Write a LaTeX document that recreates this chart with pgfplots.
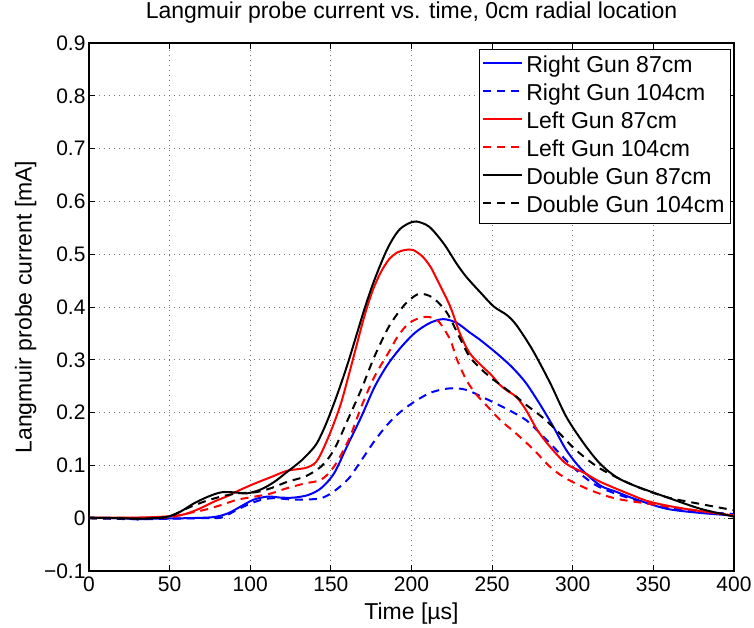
\documentclass[border=0pt]{standalone}
\usepackage{fontspec}
\setmainfont{Liberation Sans}
\usepackage{pgfplots}
\pgfplotsset{compat=1.18}
\begin{document}
\begin{tikzpicture}
\begin{axis}[
  at={(0pt,0pt)}, anchor=south west,
  scale only axis, width=645pt, height=528pt,
  xmin=0, xmax=400, ymin=-0.1, ymax=0.9,
  xtick={0,50,100,150,200,250,300,350,400},
  xticklabels={0,50,100,150,200,250,300,350,400},
  ytick={-0.1,0,0.1,0.2,0.3,0.4,0.5,0.6,0.7,0.8,0.9},
  yticklabels={−0.1,0,0.1,0.2,0.3,0.4,0.5,0.6,0.7,0.8,0.9},
  tick align=inside, major tick length=6.5pt,
  grid=major,
  grid style={black!55, line width=0.8pt, dash pattern=on 1pt off 4pt},
  axis line style={line width=1.2pt},
  tick style={line width=1pt, black},
  tick label style={font=\fontsize{21}{25}\selectfont},
  xticklabel style={yshift=-2pt},
  title={Langmuir probe current vs. time, 0cm radial location},
  title style={font=\fontsize{23}{27}\selectfont, at={(axis description cs:0.5,1)}, anchor=base, yshift=18pt},
  xlabel={Time [µs]},
  xlabel style={font=\fontsize{23}{27}\selectfont, at={(axis description cs:0.5,0)}, anchor=base, yshift=-48pt},
  ylabel={Langmuir probe current [mA]},
  ylabel style={font=\fontsize{23}{27}\selectfont, at={(axis description cs:-0.0888,0.5)}, anchor=base},
  legend style={at={(0.9953,0.9886)}, anchor=north east, draw=black, line width=1pt,
    font=\fontsize{23}{27}\selectfont, inner sep=3pt, row sep=0pt,
    nodes={text height=17pt, text depth=5pt, inner sep=3pt}},
  legend cell align=left,
  legend image code/.code={\draw[#1] (-2pt,0.35em) -- (37pt,0.35em);},
]
\addplot[blue, line width=2pt, smooth] table {
0 0.001
20 0.000
30 -0.002
40 -0.001
60 0.000
77 0.002
86 0.009
94 0.022
102 0.035
111 0.041
119 0.039
127 0.039
136 0.044
144 0.057
152 0.085
160 0.136
169 0.193
177 0.248
185 0.290
193 0.322
201 0.348
207 0.362
213 0.372
220 0.377
228 0.370
236 0.352
242 0.339
249 0.322
256 0.304
263 0.284
271 0.256
280 0.214
288 0.173
296 0.129
305 0.094
317 0.062
327 0.050
338 0.037
358 0.018
379 0.010
400 0.005
};
\addlegendentry{Right Gun 87cm}
\addplot[blue, line width=2pt, smooth, dash pattern=on 8pt off 6pt] table {
0 0.000
30 -0.002
50 -0.001
70 0.000
82 0.001
90 0.013
98 0.025
107 0.035
115 0.038
123 0.036
132 0.035
144 0.038
152 0.051
161 0.075
169 0.110
177 0.146
185 0.177
193 0.201
203 0.223
213 0.239
224 0.246
234 0.243
247 0.225
259 0.207
271 0.186
280 0.160
288 0.135
300 0.097
313 0.065
327 0.046
348 0.027
369 0.015
400 0.008
};
\addlegendentry{Right Gun 104cm}
\addplot[red, line width=2pt, smooth] table {
0 0.001
20 0.001
40 0.002
57 0.006
67 0.016
78 0.032
86 0.042
94 0.054
103 0.066
113 0.078
123 0.090
134 0.095
140 0.104
144 0.123
150 0.165
156 0.215
161 0.270
166 0.328
171 0.385
176 0.432
181 0.466
186 0.490
191 0.503
196 0.508
201 0.508
207 0.495
212 0.475
216 0.451
224 0.401
230 0.350
236 0.313
244 0.287
249 0.273
255 0.252
260 0.240
265 0.230
271 0.205
278 0.167
286 0.135
296 0.103
307 0.086
317 0.069
334 0.047
348 0.031
369 0.018
400 0.005
};
\addlegendentry{Left Gun 87cm}
\addplot[red, line width=2pt, smooth, dash pattern=on 8pt off 6pt] table {
0 0.000
40 0.001
51 0.002
61 0.009
72 0.016
82 0.025
92 0.035
103 0.041
113 0.047
123 0.057
134 0.066
144 0.073
152 0.098
161 0.148
169 0.212
177 0.268
186 0.315
191 0.342
196 0.362
201 0.374
206 0.380
211 0.381
217 0.372
224 0.338
228 0.302
234 0.262
240 0.235
247 0.212
255 0.186
265 0.160
276 0.129
286 0.097
296 0.075
311 0.053
327 0.037
348 0.027
369 0.018
400 0.005
};
\addlegendentry{Left Gun 104cm}
\addplot[black, line width=2pt, smooth] table {
0 0.001
20 0.000
30 -0.001
40 0.000
49 0.003
57 0.013
65 0.028
74 0.041
82 0.049
90 0.049
98 0.047
107 0.055
115 0.069
123 0.088
132 0.110
140 0.136
144 0.158
148 0.186
152 0.218
156 0.252
161 0.298
166 0.348
171 0.398
176 0.443
181 0.482
185 0.510
189 0.532
193 0.548
198 0.558
203 0.562
211 0.552
220 0.520
228 0.482
234 0.457
242 0.430
251 0.401
259 0.385
265 0.366
275 0.319
286 0.256
296 0.192
307 0.141
317 0.103
327 0.078
338 0.062
358 0.040
379 0.018
400 0.003
};
\addlegendentry{Double Gun 87cm}
\addplot[black, line width=2pt, smooth, dash pattern=on 8pt off 6pt] table {
0 0.000
30 -0.001
45 0.001
51 0.004
61 0.019
72 0.032
82 0.041
92 0.047
103 0.049
113 0.057
123 0.069
134 0.079
144 0.098
152 0.130
161 0.190
169 0.245
177 0.306
186 0.363
194 0.398
199 0.414
205 0.425
213 0.418
222 0.389
230 0.341
236 0.306
244 0.280
251 0.262
258 0.246
265 0.230
271 0.215
282 0.189
292 0.160
302 0.129
317 0.094
338 0.062
358 0.040
379 0.027
400 0.015
};
\addlegendentry{Double Gun 104cm}
\end{axis}
\pgfresetboundingbox
\path (-89pt,-56pt) rectangle (665pt,571pt);
\end{tikzpicture}
\end{document}
